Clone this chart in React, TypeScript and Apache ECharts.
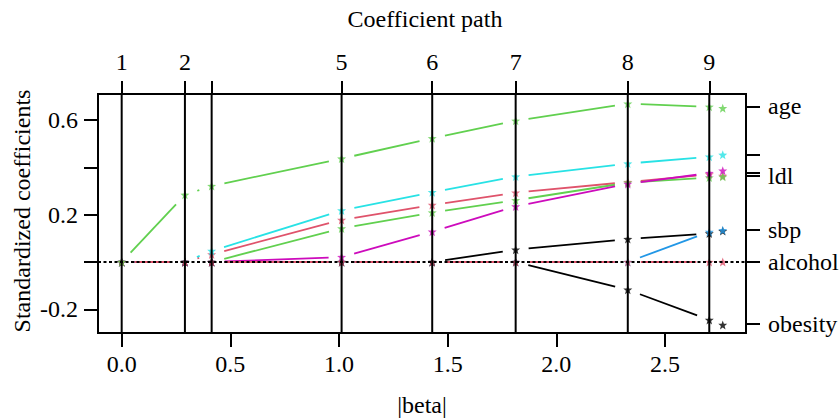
import React, { useEffect, useRef } from "react";
import * as echarts from "echarts";

// LARS step positions (|beta|) and their labels on the top axis
const stepBeta = [0, 0.291, 0.414, 1.012, 1.429, 1.813, 2.329, 2.704];
const stepLabels = ["1", "2", "", "5", "6", "7", "8", "9"];
const finalBeta = 2.766;

// axis ticks
const xTicks = [0, 0.5, 1, 1.5, 2, 2.5];
const yTicks = [-0.2, 0, 0.2, 0.4, 0.6];
const yTickLabels = [-0.2, 0.2, 0.6];
const rightAxisValues = [0.658, 0.455, 0.376, 0.364, 0.136, 0, -0.26];
const rightAxisNames = ["age", "", "", "ldl", "sbp", "alcohol", "obesity"];

// coefficient values at each step
const variables = ["sbp", "tobacco", "ldl", "adiposity", "famhist", "typea", "obesity", "alcohol", "age"];
const sbp = [0, 0, 0, 0, 0, 0.052, 0.097, 0.121];
const tobacco = [0, 0, 0.032, 0.178, 0.241, 0.293, 0.338, 0.37];
const ldl = [0, 0, 0, 0.142, 0.209, 0.261, 0.335, 0.357];
const adiposity = [0, 0, 0, 0, 0, 0, 0, 0.127];
const famhist = [0, 0, 0.047, 0.218, 0.295, 0.361, 0.416, 0.445];
const typea = [0, 0, 0, 0.021, 0.128, 0.235, 0.33, 0.376];
const obesity = [0, 0, 0, 0, 0, 0, -0.117, -0.245];
const alcohol = [0, 0, 0, 0, 0, 0, 0, 0];
const age = [0, 0.284, 0.321, 0.437, 0.523, 0.597, 0.669, 0.656];
const finalCoefs = [0.131, 0.364, 0.36, 0.134, 0.453, 0.386, -0.266, 0, 0.65];
const colors = ["#000000", "#DF536B", "#61D04F", "#2297E6", "#28E2E5", "#CD0BBC", "#000000", "#DF536B", "#61D04F"];

const paths = [sbp, tobacco, ldl, adiposity, famhist, typea, obesity, alcohol, age];

const FONT = "'Liberation Serif', 'Times New Roman', 'DejaVu Serif', serif";
const STAR = "path://M12,1 L14.8,8.6 L23,8.9 L16.6,14 L18.8,22 L12,17.4 L5.2,22 L7.4,14 L1,8.9 L9.2,8.6 Z";

export default function App() {
  const ref = useRef<HTMLDivElement>(null);
  useEffect(() => {
    if (!ref.current) return;
    const chart = echarts.init(ref.current, null, { renderer: "svg" });
    const xMin = -0.109, xMax = 2.873, yMin = -0.3, yMax = 0.71;
    const GAP = 13;

    const lineSeries = paths.map((vals, k) => ({
      type: "custom",
      name: variables[k] + "-path",
      xAxisIndex: 0,
      yAxisIndex: 0,
      z: 2,
      silent: true,
      encode: { x: [0, 2], y: [1, 3] },
      data: vals.slice(0, -1).map((v, i) => [stepBeta[i], v, stepBeta[i + 1], vals[i + 1]]),
      renderItem: (params: any, api: any) => {
        const a = api.coord([api.value(0), api.value(1)]);
        const b = api.coord([api.value(2), api.value(3)]);
        const dx = b[0] - a[0], dy = b[1] - a[1];
        const L = Math.hypot(dx, dy);
        if (L <= 2 * GAP) return null;
        const ux = dx / L, uy = dy / L;
        return {
          type: "line",
          shape: { x1: a[0] + ux * GAP, y1: a[1] + uy * GAP, x2: b[0] - ux * GAP, y2: b[1] - uy * GAP },
          style: { stroke: colors[k], lineWidth: 1.8 },
        };
      },
    }));

    const starSeries = paths.map((vals, k) => ({
      type: "scatter",
      name: variables[k],
      xAxisIndex: 0,
      yAxisIndex: 0,
      z: 3,
      silent: true,
      symbol: STAR,
      symbolSize: 9,
      itemStyle: { color: colors[k] },
      data: [...vals.map((v, i) => [stepBeta[i], v]), [finalBeta, finalCoefs[k]]],
    }));

    const vLines = {
      type: "custom",
      xAxisIndex: 0,
      yAxisIndex: 0,
      z: 5,
      silent: true,
      encode: { x: 0 },
      data: stepBeta.map((b) => [b]),
      renderItem: (params: any, api: any) => {
        const cs = params.coordSys;
        const p = api.coord([api.value(0), 0]);
        return {
          type: "line",
          shape: { x1: p[0], y1: cs.y, x2: p[0], y2: cs.y + cs.height },
          style: { stroke: "#000", lineWidth: 2 },
        };
      },
    };

    const zeroLine = {
      type: "custom",
      xAxisIndex: 0,
      yAxisIndex: 0,
      z: 5,
      silent: true,
      encode: { y: 0 },
      data: [[0]],
      renderItem: (params: any, api: any) => {
        const cs = params.coordSys;
        const p = api.coord([0, api.value(0)]);
        return {
          type: "line",
          shape: { x1: cs.x, y1: p[1], x2: cs.x + cs.width + 14, y2: p[1] },
          style: { stroke: "#000", lineWidth: 2, lineDash: [3, 2.5] },
        };
      },
    };

    const labelStyle = { fontFamily: FONT, fontSize: 24, color: "#000" };
    const tickStyle = { color: "#000", width: 2 };
    const noLine = { show: false, onZero: false };

    chart.setOption({
      animation: false,
      backgroundColor: "#fff",
      textStyle: { fontFamily: FONT },
      grid: {
        left: 98, right: 94, top: 94, bottom: 87,
        show: true, borderColor: "#000", borderWidth: 2, backgroundColor: "transparent",
        containLabel: false, outerBoundsMode: "none",
      },
      xAxis: [
        {
          type: "value", position: "bottom", min: xMin, max: xMax,
          axisLine: noLine,
          splitLine: { show: false },
          axisTick: { show: true, customValues: xTicks, length: 14, lineStyle: tickStyle },
          axisLabel: { ...labelStyle, customValues: xTicks, margin: 19, formatter: (v: number) => v.toFixed(1) },
        },
        {
          type: "value", position: "top", min: xMin, max: xMax,
          axisLine: noLine,
          splitLine: { show: false },
          axisTick: { show: true, customValues: stepBeta, length: 13, lineStyle: tickStyle },
          axisLabel: {
            ...labelStyle, customValues: stepBeta, margin: 20,
            formatter: (v: number) => {
              const i = stepBeta.findIndex((b) => Math.abs(b - v) < 1e-9);
              return i >= 0 ? stepLabels[i] : "";
            },
          },
        },
      ],
      yAxis: [
        {
          type: "value", position: "left", min: yMin, max: yMax,
          axisLine: noLine,
          splitLine: { show: false },
          axisTick: { show: true, customValues: yTicks, length: 14, lineStyle: tickStyle },
          axisLabel: { ...labelStyle, customValues: yTickLabels, margin: 20, formatter: (v: number) => v.toFixed(1) },
        },
        {
          type: "value", position: "right", min: yMin, max: yMax,
          axisLine: noLine,
          splitLine: { show: false },
          axisTick: { show: true, customValues: rightAxisValues, length: 14, lineStyle: tickStyle },
          axisLabel: {
            ...labelStyle,
            customValues: rightAxisValues.filter((_, i) => rightAxisNames[i] !== ""),
            margin: 22,
            formatter: (v: number) => {
              const i = rightAxisValues.findIndex((b) => Math.abs(b - v) < 1e-9);
              return i >= 0 ? rightAxisNames[i] : "";
            },
          },
        },
      ],
      graphic: [
        {
          type: "text", x: 425, y: 19,
          style: { text: "Coefficient path", fontFamily: FONT, fontSize: 24, fill: "#000", align: "center", verticalAlign: "middle", textAlign: "center", textVerticalAlign: "middle" },
        },
        {
          type: "text", x: 422, y: 405,
          style: { text: "|beta|", fontFamily: FONT, fontSize: 24, fill: "#000", align: "center", verticalAlign: "middle", textAlign: "center", textVerticalAlign: "middle" },
        },
        {
          type: "text", x: 22, y: 211, rotation: Math.PI / 2,
          style: { text: "Standardized coefficients", fontFamily: FONT, fontSize: 24, fill: "#000", align: "center", verticalAlign: "middle", textAlign: "center", textVerticalAlign: "middle" },
        },
      ],
      series: [...lineSeries, ...starSeries, vLines, zeroLine],
    });
    return () => chart.dispose();
  }, []);
  return <div ref={ref} style={{ position: "fixed", left: 0, top: 0, width: 840, height: 420, background: "#fff" }} />;
}
